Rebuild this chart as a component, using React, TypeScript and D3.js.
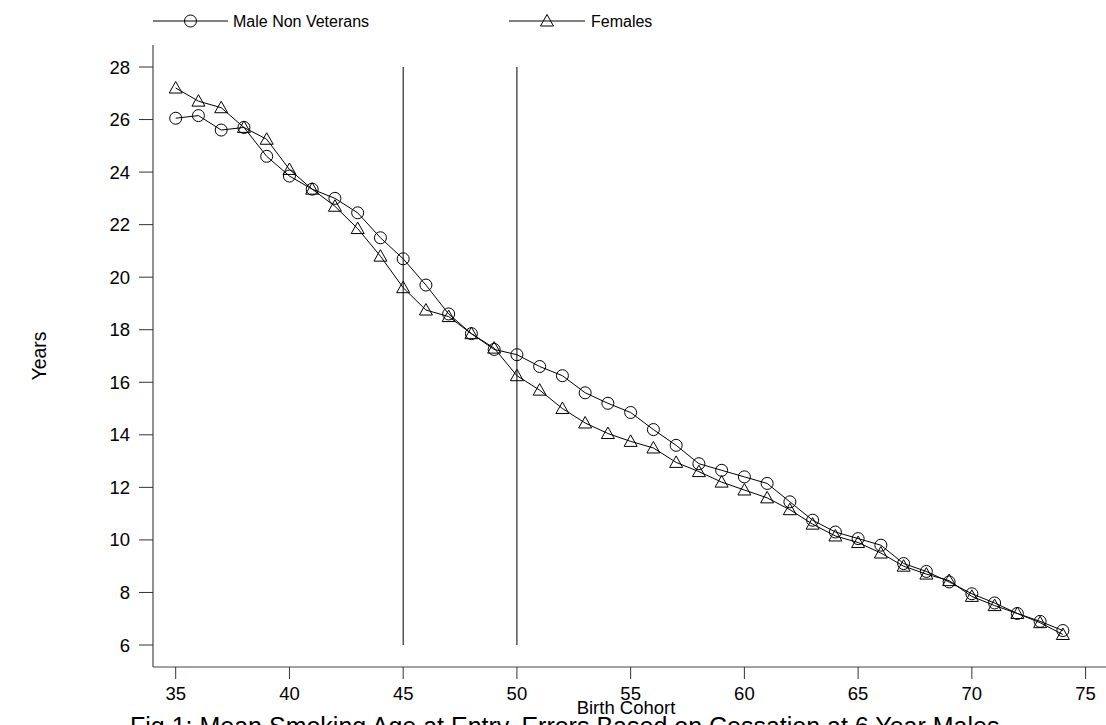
import React from "react";
import * as d3 from "d3";

const cohorts = d3.range(35, 75);
const maleNonVeterans = [
  26.05, 26.15, 25.6, 25.7, 24.6, 23.85, 23.35, 23.0, 22.45, 21.5,
  20.7, 19.7, 18.6, 17.85, 17.25, 17.05, 16.6, 16.25, 15.6, 15.2,
  14.85, 14.2, 13.6, 12.9, 12.65, 12.4, 12.15, 11.45, 10.75, 10.3,
  10.05, 9.8, 9.1, 8.8, 8.4, 7.95, 7.6, 7.2, 6.9, 6.55,
];
const females = [
  27.2, 26.7, 26.45, 25.7, 25.25, 24.1, 23.35, 22.7, 21.85, 20.8,
  19.6, 18.75, 18.5, 17.85, 17.3, 16.25, 15.7, 15.0, 14.45, 14.05,
  13.75, 13.5, 12.95, 12.6, 12.2, 11.9, 11.6, 11.15, 10.6, 10.15,
  9.9, 9.5, 9.0, 8.7, 8.45, 7.85, 7.5, 7.2, 6.85, 6.4,
];
const xTicks = [35, 40, 45, 50, 55, 60, 65, 70, 75];
const yTicks = [6, 8, 10, 12, 14, 16, 18, 20, 22, 24, 26, 28];
const refLines = [45, 50];
const seriesNames = ["Male Non Veterans", "Females"];

const W = 1106;
const H = 725;
const left = 153;
const bottom = 667;
const font = "Liberation Sans, Arial, sans-serif";

export default function App() {
  const x = d3.scaleLinear().domain([35, 75]).range([175.7, 1085.6]);
  const y = d3.scaleLinear().domain([6, 28]).range([645, 67]);
  const line = d3
    .line<number>()
    .x((_, i) => x(cohorts[i]))
    .y((d) => y(d));

  const circle = (cx: number, cy: number, key: string) => (
    <circle key={key} cx={cx} cy={cy} r={6} fill="none" stroke="#000" strokeWidth={1} />
  );
  const tri = (cx: number, cy: number, key: string) => (
    <path
      key={key}
      d={`M${cx},${cy - 6.5}L${cx + 6.5},${cy + 5}L${cx - 6.5},${cy + 5}Z`}
      fill="none"
      stroke="#000"
      strokeWidth={1}
    />
  );

  return (
    <div style={{ position: "absolute", left: 0, top: 0 }}>
      <svg width={W} height={H} style={{ display: "block", background: "#fff" }} fontFamily={font}>
        {/* legend */}
        <line x1={153} x2={228} y1={21} y2={21} stroke="#000" />
        {circle(190.5, 21, "lc")}
        <text x={233} y={27} fontSize={16}>{seriesNames[0]}</text>
        <line x1={509} x2={585} y1={21} y2={21} stroke="#000" />
        {tri(547, 21, "lt")}
        <text x={591} y={27} fontSize={16}>{seriesNames[1]}</text>

        {/* axes */}
        <line x1={left} x2={left} y1={45} y2={bottom} stroke="#222" />
        <line x1={left} x2={W} y1={bottom} y2={bottom} stroke="#444" />
        {yTicks.map((t) => (
          <g key={"y" + t}>
            <line x1={139} x2={left} y1={y(t)} y2={y(t)} stroke="#333" />
            <text x={130} y={y(t) + 6.5} fontSize={18.5} textAnchor="end">{t}</text>
          </g>
        ))}
        {xTicks.map((t) => (
          <g key={"x" + t}>
            <line x1={x(t)} x2={x(t)} y1={bottom} y2={679} stroke="#333" />
            <text x={x(t)} y={700} fontSize={18.5} textAnchor="middle">{t}</text>
          </g>
        ))}
        <text x={46} y={356} fontSize={19.5} textAnchor="middle" transform="rotate(-90 46 356)">Years</text>
        <text x={626} y={714} fontSize={18.5} textAnchor="middle">Birth Cohort</text>

        {/* reference lines */}
        {refLines.map((r) => (
          <line key={"r" + r} x1={x(r)} x2={x(r)} y1={y(28)} y2={y(6)} stroke="#000" />
        ))}

        {/* series */}
        <path d={line(maleNonVeterans) || ""} fill="none" stroke="#000" strokeWidth={1} />
        <path d={line(females) || ""} fill="none" stroke="#000" strokeWidth={1} />
        {maleNonVeterans.map((v, i) => circle(x(cohorts[i]), y(v), "c" + i))}
        {females.map((v, i) => tri(x(cohorts[i]), y(v), "t" + i))}

        {/* caption, cut off by the picture's bottom edge */}
        <text x={130} y={735} fontSize={25}>
          Fig.1: Mean Smoking Age at Entry, Errors Based on Cessation at 6 Year Males
        </text>
      </svg>
    </div>
  );
}
